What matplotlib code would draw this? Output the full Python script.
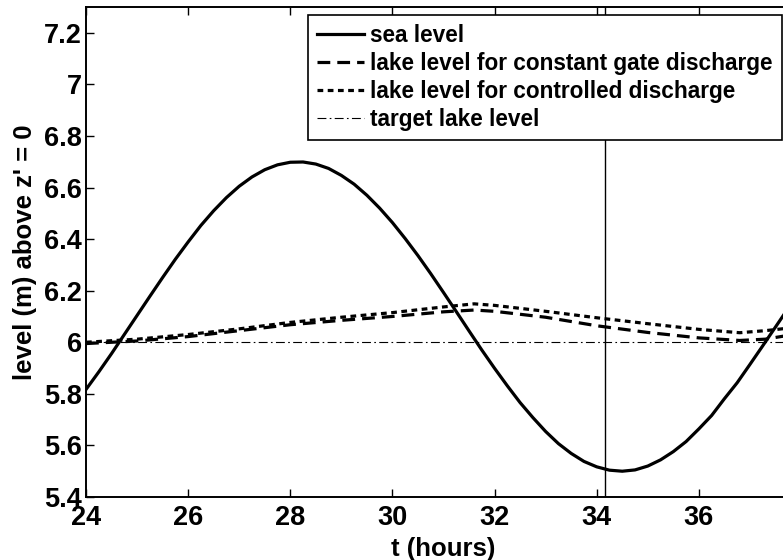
import matplotlib
matplotlib.use("Agg")
import matplotlib.pyplot as plt

# time axis (hours), sea level every quarter hour
t_sea = [24, 24.25, 24.5, 24.75, 25, 25.25, 25.5, 25.75, 26, 26.25, 26.5, 26.75,
         27, 27.25, 27.5, 27.75, 28, 28.25, 28.5, 28.75, 29, 29.25, 29.5, 29.75,
         30, 30.25, 30.5, 30.75, 31, 31.25, 31.5, 31.75, 32, 32.25, 32.5, 32.75,
         33, 33.25, 33.5, 33.75, 34, 34.25, 34.5, 34.75, 35, 35.25, 35.5, 35.75,
         36, 36.25, 36.5, 36.75, 37, 37.25, 37.5, 37.75, 38]
sea_level = [5.817, 5.885, 5.956, 6.030, 6.104, 6.178, 6.251, 6.322, 6.389, 6.453,
             6.510, 6.561, 6.605, 6.641, 6.669, 6.688, 6.698, 6.699, 6.691, 6.674,
             6.647, 6.613, 6.570, 6.520, 6.464, 6.402, 6.336, 6.266, 6.193, 6.119,
             6.044, 5.970, 5.899, 5.831, 5.766, 5.708, 5.654, 5.607, 5.569, 5.538,
             5.517, 5.504, 5.500, 5.505, 5.520, 5.544, 5.576, 5.615, 5.664, 5.716,
             5.781, 5.843, 5.914, 5.986, 6.059, 6.132, 6.207]

t_lake = [24, 25, 26, 27, 28, 29, 30, 31, 31.6, 32, 33, 34, 35, 36, 36.8, 37.3, 38]
lake_const = [5.995, 6.005, 6.022, 6.045, 6.068, 6.085, 6.100, 6.118, 6.125,
              6.120, 6.097, 6.064, 6.038, 6.017, 6.007, 6.012, 6.035]
lake_ctrl = [6.000, 6.012, 6.030, 6.052, 6.077, 6.097, 6.115, 6.137, 6.149,
             6.143, 6.120, 6.095, 6.072, 6.050, 6.037, 6.045, 6.060]

t_target = [24, 38]
target = [6.0, 6.0]

t_mark = 34.17

xticks = [24, 26, 28, 30, 32, 34, 36]
yticks = [5.4, 5.6, 5.8, 6, 6.2, 6.4, 6.6, 6.8, 7, 7.2]
ytick_labels = ["5.4", "5.6", "5.8", "6", "6.2", "6.4", "6.6", "6.8", "7", "7.2"]

plt.rcParams['font.family'] = ['Liberation Sans', 'DejaVu Sans']
plt.rcParams['font.weight'] = 'bold'

fig = plt.figure(figsize=(7.83, 5.6), dpi=100)
# right edge of the box (t = 38) sits just past the picture
ax = fig.add_axes([86 / 783, 1 - 497 / 560, (801 - 86) / 783, 490 / 560])

ax.plot(t_sea, sea_level, color='black', lw=2.3, label='sea level')
ax.plot(t_lake, lake_const, color='black', lw=2.3, dashes=(4, 2.2),
        label='lake level for constant gate discharge')
ax.plot(t_lake, lake_ctrl, color='black', lw=2.3, dashes=(1.8, 1.4),
        label='lake level for controlled discharge')
ax.plot(t_target, target, color='black', lw=0.8, dashes=(8, 3, 1.5, 3),
        label='target lake level')
ax.axvline(t_mark, color='black', lw=1.0)

ax.set_xlim(24, 38)
ax.set_ylim(5.4, 7.3)
ax.set_xticks(xticks)
ax.set_yticks(yticks)
ax.set_yticklabels(ytick_labels)
ax.tick_params(direction='in', length=6, width=1, labelsize=19.5, top=True, right=True)
ax.tick_params(axis='x', pad=6)
ax.tick_params(axis='y', pad=3)
for s in ax.spines.values():
    s.set_linewidth(1.4)

ax.set_xlabel('t (hours)', fontsize=18.5, fontweight='bold', labelpad=4)
ax.set_ylabel("level (m) above z' = 0", fontsize=18.5, fontweight='bold', labelpad=5)

leg = ax.legend(loc='upper right', bbox_to_anchor=(782 / 783, 1 - 15 / 560),
                bbox_transform=fig.transFigure, borderaxespad=0, fontsize=16.3,
                handlelength=2.1, handletextpad=0.27, labelspacing=0.22,
                borderpad=0.4, fancybox=False, framealpha=1)
leg.get_frame().set_edgecolor('black')
leg.get_frame().set_linewidth(1.2)

fig.savefig('out.png', dpi=100)
